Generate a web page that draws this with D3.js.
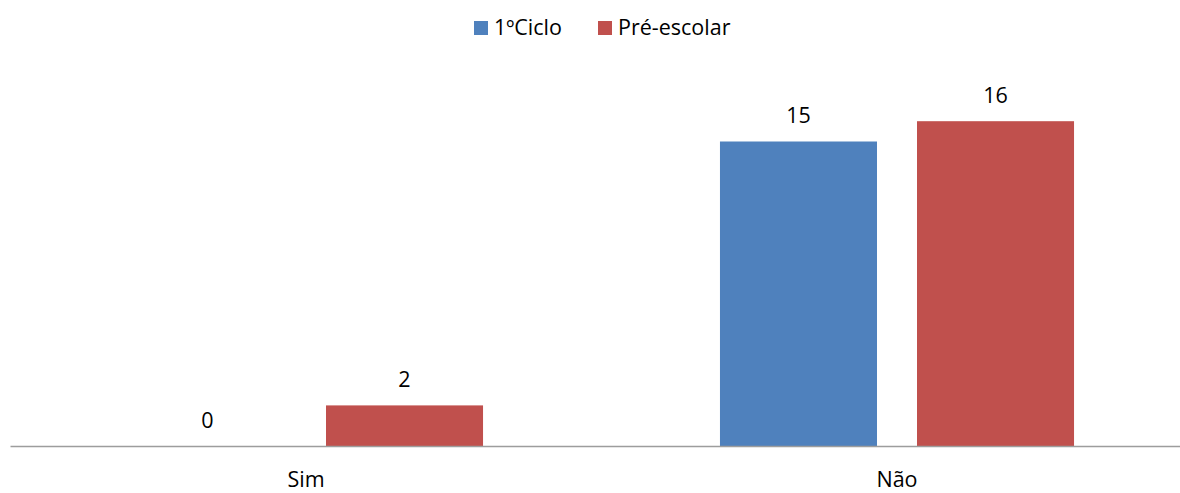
<!DOCTYPE html>
<html><head><meta charset="utf-8">
<script src="https://cdn.jsdelivr.net/npm/d3@7"></script>
<style>body{margin:0;background:#fff}svg{display:block}text{font-family:"Open Sans",sans-serif;fill:#000}</style>
</head><body><div id="chart"></div>
<script>
const categories = ["Sim", "Não"];
const seriesNames = ["1ºCiclo", "Pré-escolar"];
const ciclo = [0, 15];
const preEscolar = [2, 16];
const colors = ["#4F81BD", "#C0504D"];

const W = 1180, H = 493;
const FS = 21.5;
const svg = d3.select("#chart").append("svg").attr("width", W).attr("height", H);

const x = d3.scaleBand().domain(categories).range([10.5, 1192.5]).paddingInner(0).paddingOuter(0);
const bandW = x.bandwidth();
const barW = bandW * 0.2657;
const innerGap = bandW * 0.0677;
const y = d3.scaleLinear().domain([0, 18]).range([446, 446 - 18 * 20.3]);

const series = [ciclo, preEscolar];
const groupW = barW * 2 + innerGap;
series.forEach((vals, si) => {
  const g = svg.append("g");
  const xs = c => x(c) + (bandW - groupW) / 2 + si * (barW + innerGap);
  g.selectAll("rect").data(categories).join("rect")
    .attr("x", c => xs(c)).attr("width", barW)
    .attr("y", (c, i) => y(vals[i])).attr("height", (c, i) => y(0) - y(vals[i]))
    .attr("fill", colors[si]);
  g.selectAll("text").data(categories).join("text")
    .attr("x", c => xs(c) + barW / 2).attr("y", (c, i) => y(vals[i]) - 18.5)
    .attr("text-anchor", "middle").attr("font-size", FS).text((c, i) => vals[i]);
});

// axis
const axis = svg.append("g").attr("transform", `translate(0,${y(0)})`)
  .call(d3.axisBottom(x).tickSize(0).tickPadding(0));
axis.select(".domain").attr("stroke", "#9d9d9d").attr("stroke-width", 1.5).attr("d", `M${x.range()[0]},0.5H${x.range()[1]}`);
axis.selectAll(".tick text").attr("font-size", FS).attr("font-family", '"Open Sans",sans-serif').attr("fill", "#000").attr("dy", 0).attr("y", 41);

// legend
const legendItems = [{name: seriesNames[0], x: 474}, {name: seriesNames[1], x: 598}];
const lg = svg.append("g");
legendItems.forEach((d, i) => {
  lg.append("rect").attr("x", d.x).attr("y", 21).attr("width", 14).attr("height", 14).attr("fill", colors[i]);
  lg.append("text").attr("x", d.x + 20).attr("y", 35).attr("font-size", FS).text(d.name);
});
</script></body></html>
